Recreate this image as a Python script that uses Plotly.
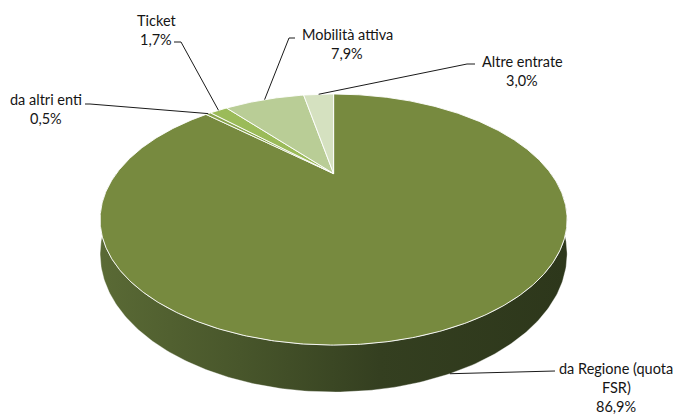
import numpy as np
import plotly.graph_objects as go

# Revenue breakdown (share of total, %), listed clockwise from 12 o'clock
categories = ["da Regione (quota FSR)", "da altri enti", "Ticket", "Mobilità attiva", "Altre entrate"]
shares = [86.9, 0.5, 1.7, 7.9, 3.0]

# Wrapped label lines for each category
label_lines = [["da Regione (quota", "FSR)"], ["da altri enti"], ["Ticket"], ["Mobilità attiva"], ["Altre entrate"]]

slice_colors = ["#778a3f", "#88a34b", "#9bbb59", "#b9cd96", "#d5e1c0"]
side_scale = [[0.0, "#5a6a35"], [0.3, "#48562b"], [0.6, "#343f20"], [1.0, "#2d371b"]]

W, H_PX = 675, 414

# Tilted-disc projection (pixel space): centre, radii, perspective, thickness
CX, CY = 333.6, 173.6
RX, RY = 217.3, 108.7
PERSP = 0.366
THICK = 29.8


def rim(theta_deg, depth=0.0):
    """Project a point of the disc rim (angle clockwise from 12 o'clock)."""
    t = np.radians(theta_deg)
    sx = np.sin(t)
    sz = -np.cos(t)  # positive toward the viewer
    w = 1.0 - PERSP * sz
    return CX + RX * sx / w, CY + (RY * sz + THICK * depth) / w


total = float(sum(shares))
spans = [360.0 * s / total for s in shares]
starts = np.concatenate([[0.0], np.cumsum(spans)[:-1]])
ends = starts + np.array(spans)

fig = go.Figure()

# Visible side wall (front half of the disc)
for i, (a0, a1) in enumerate(zip(starts, ends)):
    lo, hi = max(a0, 90.0), min(a1, 270.0)
    if hi <= lo:
        continue
    th = np.linspace(lo, hi, 240)
    tx, ty = rim(th, 0.0)
    bx, by = rim(th[::-1], 1.0)
    fig.add_trace(go.Scatter(
        x=np.concatenate([tx, bx, tx[:1]]), y=np.concatenate([ty, by, ty[:1]]),
        mode="lines", fill="toself", line=dict(color="rgba(255,255,255,0.6)", width=0.6),
        fillgradient=dict(type="horizontal", colorscale=side_scale),
        hoverinfo="skip", showlegend=False))

# Top face slices
for i, (a0, a1) in enumerate(zip(starts, ends)):
    th = np.linspace(a0, a1, max(8, int((a1 - a0) * 2)))
    ax, ay = rim(th, 0.0)
    xs = np.concatenate([[CX], ax, [CX]])
    ys = np.concatenate([[CY], ay, [CY]])
    fig.add_trace(go.Scatter(
        x=xs, y=ys, mode="lines", fill="toself", fillcolor=slice_colors[i],
        line=dict(color="white", width=0.9), hoverinfo="skip", showlegend=False,
        name=categories[i]))

# Label placement: centre x, y of first text line, leader elbow points
label_pos = [(616, 368), (46, 99), (156, 20), (347, 34), (522, 61)]
leader_elbows = [
    [(555, 371)],
    [(85, 104), (90, 104)],
    [(174, 42), (181, 42)],
    [(295, 38), (289, 38)],
    [(475, 64), (467, 64)],
]
# Front-facing slice leaders attach a little past mid-angle on the lower rim
leader_offset = [3.0, 0.0, 0.0, 0.0, 0.0]
LINE_H = 19

for i, (a0, a1) in enumerate(zip(starts, ends)):
    mid = 0.5 * (a0 + a1) + leader_offset[i]
    front = 90.0 < mid < 270.0
    px, py = rim(mid, 1.0 if front else 0.0)
    pts = leader_elbows[i] + [(px, py)]
    fig.add_trace(go.Scatter(
        x=[p[0] for p in pts], y=[p[1] for p in pts], mode="lines",
        line=dict(color="#1a1a1a", width=1), hoverinfo="skip", showlegend=False))

    lx, ly = label_pos[i]
    pct = f"{shares[i]:.1f}".replace(".", ",") + "%"
    for k, txt in enumerate(label_lines[i] + [pct]):
        fig.add_annotation(
            x=lx, y=ly + k * LINE_H, xref="x", yref="y", text=txt, showarrow=False,
            xanchor="center", yanchor="middle",
            font=dict(family="Lato", size=14.5, color="#151515"))

fig.update_layout(
    width=W, height=H_PX, margin=dict(l=0, r=0, t=0, b=0),
    paper_bgcolor="white", plot_bgcolor="white",
    xaxis=dict(range=[0, W], visible=False, fixedrange=True),
    yaxis=dict(range=[H_PX, 0], visible=False, fixedrange=True),
    showlegend=False,
)

fig.write_html("out.html")
